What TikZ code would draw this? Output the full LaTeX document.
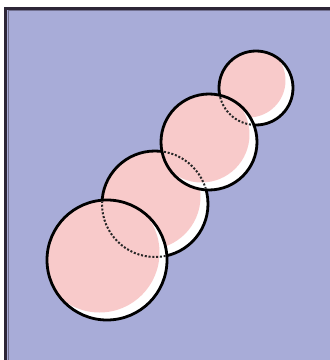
\documentclass[tikz,border=0pt]{standalone}
\usepackage{xcolor}
\definecolor{bgcolor}{RGB}{168, 172, 216}
\definecolor{pinkcolor}{RGB}{248, 202, 202}
\definecolor{framecolor}{RGB}{45, 38, 55}
\tikzset{
	backdrop/.style={fill=bgcolor},
	frameline/.style={draw=framecolor, line width=3pt},
	framelight/.style={draw=framecolor!45!bgcolor, line width=1.5pt},
	bubblebase/.style={fill=white},
	bubbleface/.style={fill=pinkcolor},
	rim/.style={draw=black, line width=2.8pt},
	hidden/.style={draw=black!85, line width=2pt, dash pattern=on 2pt off 1.8pt}
}
\begin{document}
\begin{tikzpicture}[x=1pt, y=1pt]
		\useasboundingbox (0,0) rectangle (330,360);
		
		% Backdrop
		\fill[backdrop] (7,0) rectangle (330,352);
		\draw[frameline] (6,0) -- (6,351.5) -- (330,351.5);
		\draw[framelight] (8.5,0) -- (8.5,349.3) -- (330,349.3);
		
		% Centres
		\coordinate (B1) at (107,100);
		\coordinate (B2) at (155,156);
		\coordinate (B3) at (209,218);
		\coordinate (B4) at (256,272);
		
		% Bubbles, back to front
		\foreach \c/\r in {B4/37, B2/53, B3/48, B1/60} {
			\begin{scope}
				\clip (\c) circle[radius=\r pt];
				\fill[bubblebase] (\c) circle[radius=\r pt];
				\fill[bubbleface] ([shift={(-7.5pt,7.5pt)}]\c) circle[radius=\r pt];
			\end{scope}
			\draw[rim] (\c) circle[radius=\r pt];
		}
		
		% Hidden outlines
		\begin{scope}
			\clip (B1) circle[radius=58.6pt];
			\draw[hidden] (B2) circle[radius=53pt];
		\end{scope}
		\begin{scope}
			\clip (B3) circle[radius=46.6pt];
			\draw[hidden] (B2) circle[radius=53pt];
			\draw[hidden] (B4) circle[radius=37pt];
		\end{scope}
		
\end{tikzpicture}
\end{document}
